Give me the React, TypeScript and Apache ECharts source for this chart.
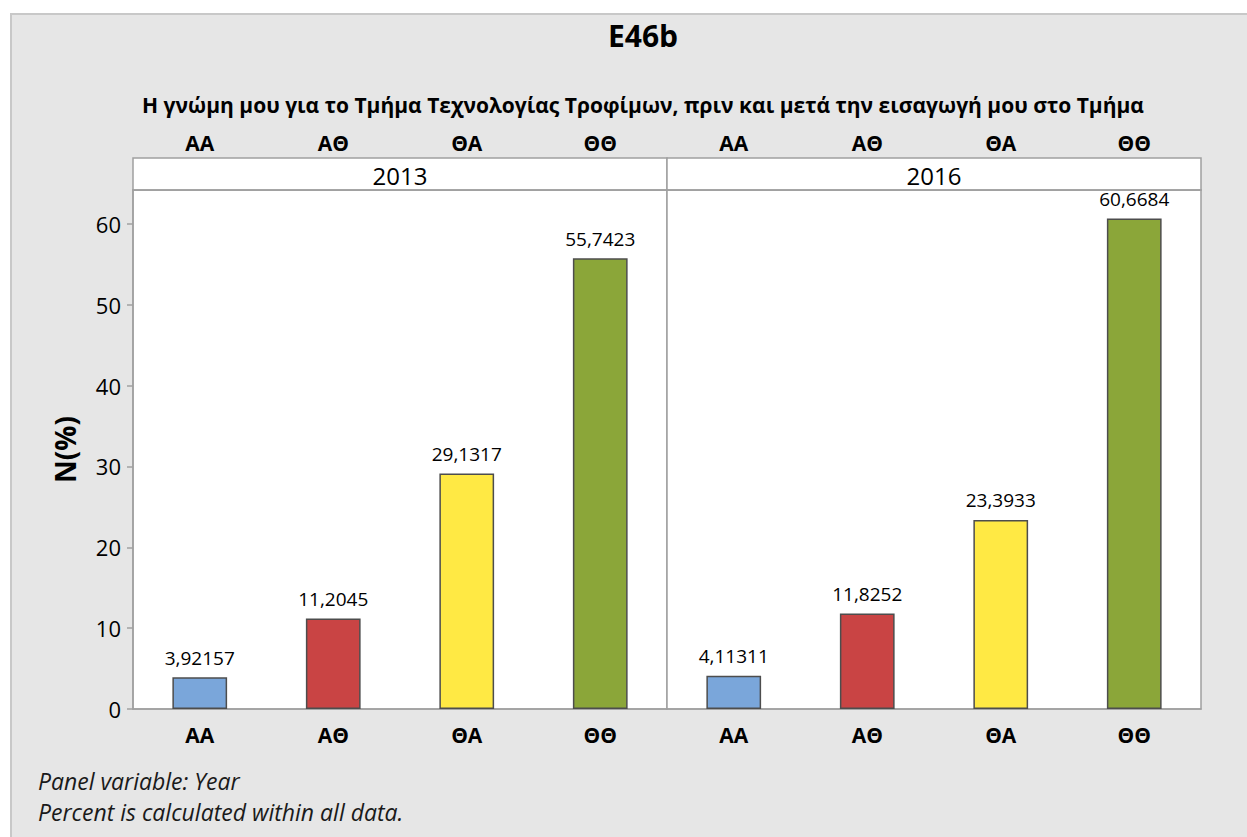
import React, { useEffect, useRef } from "react";
import * as echarts from "echarts";

const categories = ["ΑΑ", "ΑΘ", "ΘΑ", "ΘΘ"];
const panels = ["2013", "2016"];
const values2013 = [3.92157, 11.2045, 29.1317, 55.7423];
const values2016 = [4.11311, 11.8252, 23.3933, 60.6684];
const barColors = ["#7aa6da", "#c94444", "#ffe944", "#8ba639"];
const titleText = "E46b";
const subtitleText =
  "Η γνώμη μου για το Τμήμα Τεχνολογίας Τροφίμων, πριν και μετά την εισαγωγή μου στο Τμήμα";
const yAxisName = "N(%)";
const footnotes = ["Panel variable: Year", "Percent is calculated within all data."];

const FONT = "'Open Sans', 'Noto Sans', sans-serif";

export default function App() {
  const ref = useRef<HTMLDivElement>(null);
  useEffect(() => {
    document.body.style.margin = "0";
    const chart = echarts.init(ref.current!, null, { renderer: "svg" });
    const panelValues = [values2013, values2016];
    const gridLefts = [133, 667];
    const gridWidth = 534;
    const grids: any[] = [];
    gridLefts.forEach((l) =>
      grids.push({
        left: l,
        top: 190,
        width: gridWidth,
        height: 519,
        show: true,
        backgroundColor: "#ffffff",
        borderColor: "#a0a0a0",
        borderWidth: 1.5,
      })
    );
    gridLefts.forEach((l) =>
      grids.push({
        left: l,
        top: 158,
        width: gridWidth,
        height: 32,
        show: true,
        backgroundColor: "#ffffff",
        borderColor: "#a0a0a0",
        borderWidth: 1.5,
      })
    );
    const catLabel = {
      fontFamily: FONT,
      fontWeight: "bold",
      fontSize: 21,
      color: "#000",
    };
    const xAxes: any[] = [];
    [0, 1].forEach((i) =>
      xAxes.push({
        type: "category",
        gridIndex: i,
        data: categories,
        position: "bottom",
        axisLine: { lineStyle: { color: "#a0a0a0", width: 1.5 } },
        axisTick: { alignWithLabel: true, length: 7, lineStyle: { color: "#a0a0a0", width: 1.5 } },
        axisLabel: { ...catLabel, margin: 15 },
      })
    );
    [0, 1].forEach((i) =>
      xAxes.push({
        type: "category",
        gridIndex: 2 + i,
        data: categories,
        position: "top",
        axisLine: { lineStyle: { color: "#a0a0a0", width: 1.5 } },
        axisTick: { alignWithLabel: true, length: 8, lineStyle: { color: "#a0a0a0", width: 1.5 } },
        axisLabel: { ...catLabel, margin: 5 },
      })
    );
    const yAxes: any[] = [];
    [0, 1].forEach((i) =>
      yAxes.push({
        type: "value",
        gridIndex: i,
        min: 0,
        max: 64.2,
        interval: 10,
        show: i === 0,
        splitLine: { show: false },
        axisLine: { show: true, lineStyle: { color: "#a0a0a0", width: 1.5 } },
        axisTick: { show: true, length: 6, lineStyle: { color: "#a0a0a0", width: 1.5 } },
        axisLabel: {
          fontFamily: FONT,
          fontSize: 22,
          fontWeight: 500,
          color: "#000",
          margin: 12,
          showMaxLabel: false,
          formatter: (v: number) => (v % 10 === 0 ? String(v) : ""),
        },
        name: i === 0 ? yAxisName : "",
        nameLocation: "middle",
        nameGap: 54,
        nameRotate: 90,
        nameTextStyle: { fontFamily: FONT, fontSize: 28, fontWeight: "bold", color: "#000" },
      })
    );
    [2, 3].forEach((g) =>
      yAxes.push({ type: "value", gridIndex: g, show: false, min: 0, max: 1 })
    );
    const series = [0, 1].map((i) => ({
      type: "bar",
      xAxisIndex: i,
      yAxisIndex: i,
      barWidth: "41%",
      data: panelValues[i].map((v, k) => ({
        value: v,
        itemStyle: { color: barColors[k] },
      })),
      itemStyle: { borderColor: "#4d4d4d", borderWidth: 1.5 },
      label: {
        show: true,
        position: "top",
        distance: 10,
        fontFamily: FONT,
        fontSize: 19,
        color: "#000",
        formatter: (p: any) => String(p.value).replace(".", ","),
      },
    }));
    chart.setOption({
      animation: false,
      backgroundColor: "#e6e6e6",
      title: [
        {
          text: titleText,
          left: 638,
          top: 15,
          textAlign: "center",
          textStyle: { fontFamily: FONT, fontSize: 30, fontWeight: "bold", color: "#000" },
        },
        {
          text: subtitleText,
          left: 638,
          top: 89,
          textAlign: "center",
          textStyle: { fontFamily: FONT, fontSize: 21, fontWeight: "bold", color: "#000" },
        },
      ],
      grid: grids,
      xAxis: xAxes,
      yAxis: yAxes,
      series,
      graphic: [
        { type: "rect", shape: { x: 0, y: 0, width: 1247, height: 13 }, style: { fill: "#ffffff" }, silent: true },
        { type: "rect", shape: { x: 0, y: 0, width: 10, height: 837 }, style: { fill: "#ffffff" }, silent: true },
        { type: "line", shape: { x1: 10, y1: 14, x2: 1247, y2: 14 }, style: { stroke: "#c8c8c8", lineWidth: 2 }, silent: true },
        { type: "line", shape: { x1: 11, y1: 13, x2: 11, y2: 837 }, style: { stroke: "#c8c8c8", lineWidth: 2 }, silent: true },
        ...panels.map((p, i) => ({
          type: "text",
          x: gridLefts[i] + gridWidth / 2,
          y: 175,
          style: {
            text: p,
            fontFamily: FONT,
            fontSize: 24,
            fill: "#000",
            align: "center",
            verticalAlign: "middle",
          },
        })),
        ...footnotes.map((t, k) => ({
          type: "text",
          x: 38,
          y: 781 + k * 31,
          style: {
            text: t,
            fontFamily: FONT,
            fontSize: 23,
            fontStyle: "italic",
            fill: "#1a1a1a",
            verticalAlign: "middle",
          },
        })),
      ],
    });
    return () => chart.dispose();
  }, []);
  return <div ref={ref} style={{ width: 1247, height: 837 }} />;
}
